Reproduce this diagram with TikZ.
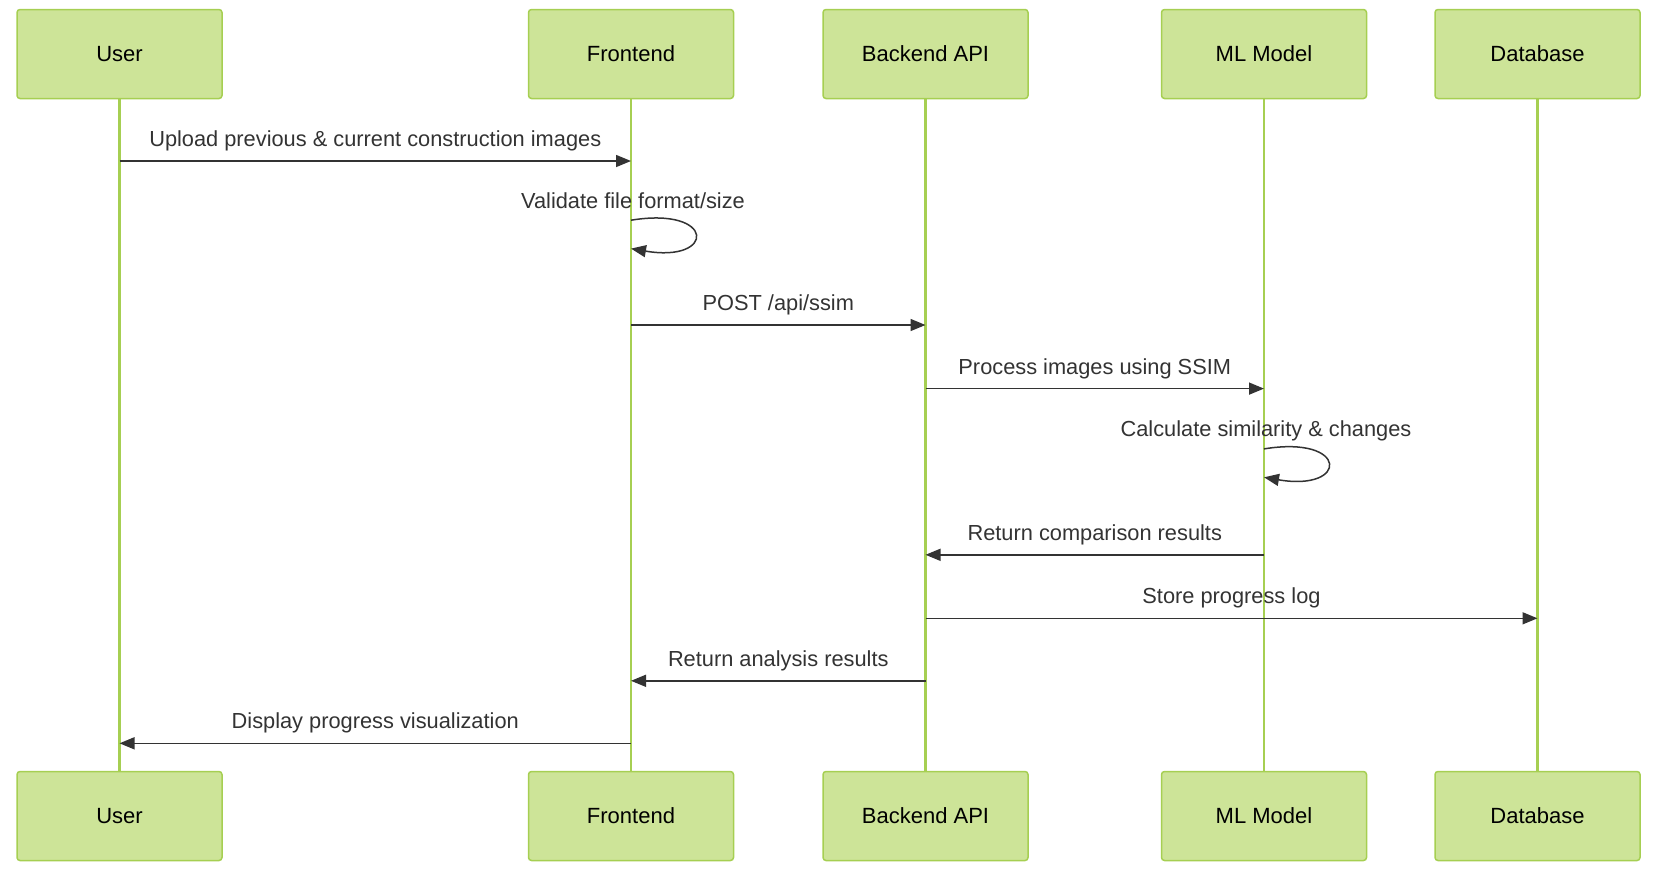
\documentclass[tikz,border=0pt]{standalone}
\usepackage{fontspec}
\setmainfont{Liberation Sans}
\usetikzlibrary{arrows.meta,calc}
\definecolor{actfill}{HTML}{CDE498}
\definecolor{actline}{HTML}{A6CF52}
\definecolor{msgc}{HTML}{333333}
\begin{document}
\begin{tikzpicture}[x=1pt,y=-1pt,
  actor/.style={draw=actline, fill=actfill, line width=1.5pt, rounded corners=3pt,
    minimum width=205pt, minimum height=89pt, inner sep=0pt,
    font=\fontsize{22pt}{26pt}\selectfont, text=black},
  life/.style={draw=actline, line width=2.6pt},
  msg/.style={draw=msgc, line width=1.5pt, -{Triangle[length=15pt,width=12pt]}},
  lbl/.style={font=\fontsize{21.8pt}{26pt}\selectfont, text=msgc, anchor=base, inner sep=0pt}]
\useasboundingbox (0,0) rectangle (1660,871);
% participants
\node[actor] (uT) at (119.5,54) {User};
\node[actor] (fT) at (631,54) {Frontend};
\node[actor] (bT) at (925.5,54) {Backend API};
\node[actor] (mT) at (1264,54) {ML Model};
\node[actor] (dT) at (1537.5,54) {Database};
\node[actor] (uB) at (119.5,816) {User};
\node[actor] (fB) at (631,816) {Frontend};
\node[actor] (bB) at (925.5,816) {Backend API};
\node[actor] (mB) at (1264,816) {ML Model};
\node[actor] (dB) at (1537.5,816) {Database};
% lifelines
\draw[life] (uT.south) -- (uB.north);
\draw[life] (fT.south) -- (fB.north);
\draw[life] (bT.south) -- (bB.north);
\draw[life] (mT.south) -- (mB.north);
\draw[life] (dT.south) -- (dB.north);
% rows
\coordinate (r1) at (0,161);
\coordinate (s1) at (0,220.2);
\coordinate (s1e) at (0,248.6);
\coordinate (r3) at (0,325);
\coordinate (r4) at (0,388.6);
\coordinate (s2) at (0,448.9);
\coordinate (s2e) at (0,477.3);
\coordinate (r6) at (0,554.8);
\coordinate (r7) at (0,618.3);
\coordinate (r8) at (0,680.8);
\coordinate (r9) at (0,743.3);
% 1
\draw[msg] (uT |- r1) -- (fT |- r1);
\node[lbl] (t1) at ($(uT |- r1)!0.5!(fT |- r1)+(0,-14.5)$) {Upload previous \& current construction images};
% 2 self
\draw[msg] (fT |- s1) .. controls +(85,-14) and +(85,14.6) .. (fT |- s1e);
\node[lbl] (t2) at ($(fT |- s1)+(2,-12)$) {Validate file format/size};
% 3
\draw[msg] (fT |- r3) -- (bT |- r3);
\node[lbl] (t3) at ($(fT |- r3)!0.5!(bT |- r3)+(0,-14.5)$) {POST /api/ssim};
% 4
\draw[msg] (bT |- r4) -- (mT |- r4);
\node[lbl] (t4) at ($(bT |- r4)!0.5!(mT |- r4)+(0,-14.5)$) {Process images using SSIM};
% 5 self
\draw[msg] (mT |- s2) .. controls +(85,-14) and +(85,14.6) .. (mT |- s2e);
\node[lbl] (t5) at ($(mT |- s2)+(2,-12)$) {Calculate similarity \& changes};
% 6
\draw[msg] (mT |- r6) -- (bT |- r6);
\node[lbl] (t6) at ($(mT |- r6)!0.5!(bT |- r6)+(0,-14.5)$) {Return comparison results};
% 7
\draw[msg] (bT |- r7) -- (dT |- r7);
\node[lbl] (t7) at ($(bT |- r7)!0.5!(dT |- r7)+(0,-14.5)$) {Store progress log};
% 8
\draw[msg] (bT |- r8) -- (fT |- r8);
\node[lbl] (t8) at ($(bT |- r8)!0.5!(fT |- r8)+(0,-14.5)$) {Return analysis results};
% 9
\draw[msg] (fT |- r9) -- (uT |- r9);
\node[lbl] (t9) at ($(fT |- r9)!0.5!(uT |- r9)+(0,-14.5)$) {Display progress visualization};
\end{tikzpicture}
\end{document}
